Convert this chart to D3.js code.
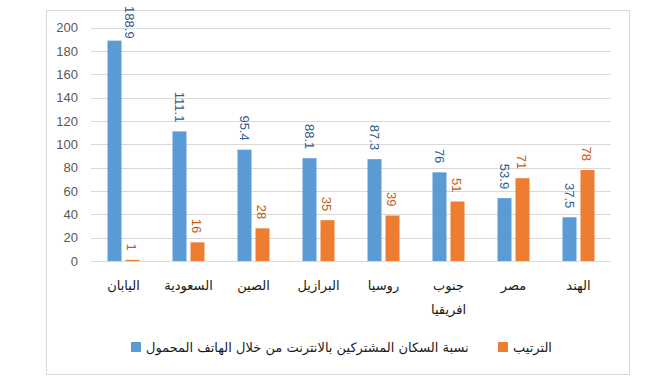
<!DOCTYPE html>
<html>
<head>
<meta charset="utf-8">
<script src="https://cdn.jsdelivr.net/npm/d3@7"></script>
<style>
  body { margin: 0; background: #fff; }
  svg { display: block; }
</style>
</head>
<body>
<svg width="656" height="388"></svg>
<script>
// data
var categories = ["اليابان", "السعودية", "الصين", "البرازيل", "روسيا", "جنوب افريقيا", "مصر", "الهند"];
var penetration = [188.9, 111.1, 95.4, 88.1, 87.3, 76, 53.9, 37.5];
var rank = [1, 16, 28, 35, 39, 51, 71, 78];
var seriesNames = ["نسبة السكان المشتركين بالانترنت من خلال الهاتف المحمول", "الترتيب"];
var yTicks = [0, 20, 40, 60, 80, 100, 120, 140, 160, 180, 200];

var barColors = ["#5b9bd5", "#ed7d31"];
var labelColors = ["#2f5b8c", "#c55a11"];
var numFont = "'Liberation Sans', Arial, sans-serif";
var arFont = "'DejaVu Sans', sans-serif";

var svg = d3.select("svg"),
    width = +svg.attr("width"),
    height = +svg.attr("height");

// chart frame
svg.append("rect")
    .attr("x", 46.5).attr("y", 10.5)
    .attr("width", 583).attr("height", 364)
    .attr("fill", "#fff")
    .attr("stroke", "#d9d9d9");

var x0 = d3.scaleBand().domain(categories).range([91, 611]).padding(0);
var x1 = d3.scaleBand().domain([0, 1]).range([-16, 16]).paddingInner(0.222).paddingOuter(0);
var y = d3.scaleLinear().domain([0, 200]).range([261, 27.7]);

// gridlines
svg.append("g")
    .selectAll("line")
    .data(yTicks)
    .enter().append("line")
    .attr("x1", 91).attr("x2", 611)
    .attr("y1", function (d) { return Math.round(y(d)) + 0.5; })
    .attr("y2", function (d) { return Math.round(y(d)) + 0.5; })
    .attr("stroke", "#d9d9d9")
    .attr("stroke-width", 1);

// y tick labels
svg.append("g")
    .selectAll("text")
    .data(yTicks)
    .enter().append("text")
    .attr("x", 78)
    .attr("y", function (d) { return y(d); })
    .attr("dy", "0.35em")
    .attr("text-anchor", "end")
    .style("font", "13px " + numFont)
    .attr("fill", "#595959")
    .text(function (d) { return d; });

var rows = categories.map(function (c, i) {
    return { cat: c, vals: [penetration[i], rank[i]] };
});

var group = svg.append("g")
    .selectAll("g")
    .data(rows)
    .enter().append("g")
    .attr("transform", function (d) {
        return "translate(" + (x0(d.cat) + x0.bandwidth() / 2) + ",0)";
    });

var cells = group.selectAll("g")
    .data(function (d) { return d.vals.map(function (v, k) { return { k: k, v: v }; }); })
    .enter().append("g");

cells.append("rect")
    .attr("x", function (d) { return x1(d.k); })
    .attr("y", function (d) { return y(d.v); })
    .attr("width", x1.bandwidth())
    .attr("height", function (d) { return y(0) - y(d.v); })
    .attr("fill", function (d) { return barColors[d.k]; });

// value labels, rotated, reading top to bottom
cells.append("text")
    .attr("transform", function (d) {
        var cx = x1(d.k) + x1.bandwidth() / 2 - 5;
        var yEnd = y(d.v) - 9;
        // label would leave the chart at the top: push it down and aside
        if (yEnd - 26 < 12) {
            cx += 15;
            yEnd = y(d.v) - 2;
        }
        return "translate(" + cx + "," + yEnd + ") rotate(90)";
    })
    .attr("text-anchor", "end")
    .style("font", "13px " + numFont)
    .attr("fill", function (d) { return labelColors[d.k]; })
    .text(function (d) { return d.v; });

// category labels, wrapped at spaces
var catText = svg.append("g")
    .selectAll("text")
    .data(categories)
    .enter().append("text")
    .attr("x", function (d) { return x0(d) + x0.bandwidth() / 2; })
    .attr("y", 290)
    .attr("text-anchor", "middle")
    .style("font", "13px " + arFont)
    .attr("fill", "#1a1a1a");

catText.each(function (d) {
    var t = d3.select(this);
    d.split(" ").forEach(function (w, i) {
        t.append("tspan")
            .attr("x", x0(d) + x0.bandwidth() / 2)
            .attr("dy", i ? 24 : 0)
            .text(w);
    });
});

// legend
var legendX = [131, 498];
var leg = svg.append("g")
    .selectAll("g")
    .data(seriesNames)
    .enter().append("g")
    .attr("transform", function (d, i) { return "translate(" + legendX[i] + ",342)"; });

leg.append("rect")
    .attr("width", 10).attr("height", 10)
    .attr("fill", function (d, i) { return barColors[i]; });

leg.append("text")
    .attr("x", 15)
    .attr("y", 5)
    .attr("dy", "0.35em")
    .style("font", "13px " + arFont)
    .attr("fill", "#1a1a1a")
    .text(function (d) { return d; });
</script>
</body>
</html>
